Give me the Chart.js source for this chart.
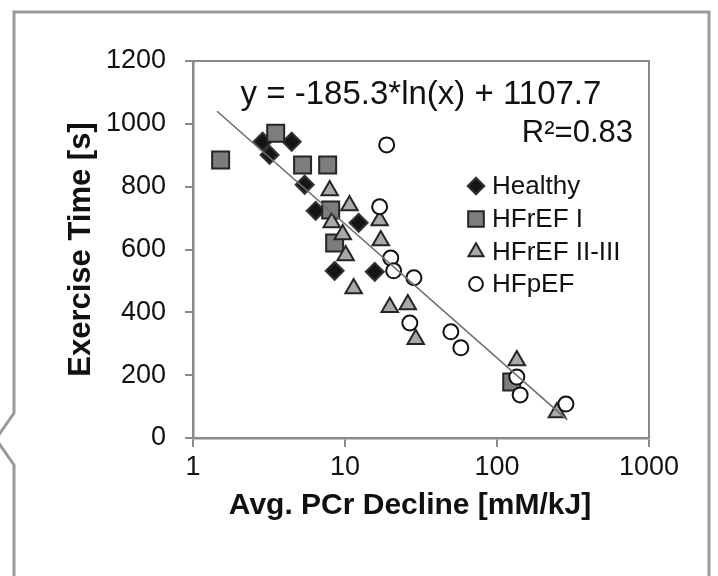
<!DOCTYPE html>
<html lang="en">
<head>
<meta charset="UTF-8">
<title>Exercise Time vs PCr Decline</title>
<script src="https://cdn.jsdelivr.net/npm/chart.js@4.4.1/dist/chart.umd.min.js"></script>
<style>
  html, body {margin: 0; padding: 0; background: #fff;}
  #wrap {width: 718px; height: 576px;}
</style>
</head>
<body>
<div id="wrap"><canvas id="chart"></canvas></div>
<script>
// values
const healthyX = [2.87, 4.46, 3.19, 5.43, 6.41, 12.3, 8.55, 15.7];
const healthyY = [943, 943, 901, 806, 723, 685, 532, 529];
const hfrefIX = [1.52, 3.50, 5.26, 7.69, 8.05, 8.55, 125];
const hfrefIY = [885, 970, 869, 869, 726, 621, 178];
const hfrefIIX = [7.93, 10.7, 8.18, 9.66, 10.1, 16.9, 17.2, 11.4, 19.7, 25.9, 29.2, 135, 248];
const hfrefIIY = [788, 740, 686, 648, 581, 692, 629, 476, 416, 425, 314, 247, 81];
const hfpefX = [18.8, 16.9, 20.0, 20.9, 28.4, 26.7, 49.7, 57.8, 135, 142, 284];
const hfpefY = [933, 736, 573, 532, 510, 366, 338, 287, 194, 137, 108];
const trendX = [1.44, 290];
const trendY = [1040, 58];

const xTicks = [1, 10, 100, 1000];
const yTicks = [0, 200, 400, 600, 800, 1000, 1200];
const seriesNames = ['Healthy', 'HFrEF I', 'HFrEF II-III', 'HFpEF'];
const equation = 'y = -185.3*ln(x) + 1107.7';
const rSquared = 'R²=0.83';
const xTitle = 'Avg. PCr Decline [mM/kJ]';
const yTitle = 'Exercise Time [s]';

const FONT = '"Liberation Sans", Arial, sans-serif';
const AXIS_GRAY = '#8a8a8a';

function pts(xs, ys) {
    return xs.map((x, i) => ({x: x, y: ys[i]}));
}

const styles = [
    {pointStyle: 'rectRot', radius: 9, backgroundColor: '#151515', borderColor: '#333'},
    {pointStyle: 'rect', radius: 12, backgroundColor: '#7d7d7d', borderColor: '#252525'},
    {pointStyle: 'triangle', radius: 9.5, backgroundColor: '#a9a9a9', borderColor: '#252525'},
    {pointStyle: 'circle', radius: 7.5, backgroundColor: '#ffffff', borderColor: '#111'}
];
const seriesData = [pts(healthyX, healthyY), pts(hfrefIX, hfrefIY), pts(hfrefIIX, hfrefIIY), pts(hfpefX, hfpefY)];

const datasets = seriesNames.map((name, i) => ({
    type: 'scatter',
    label: name,
    data: seriesData[i],
    pointStyle: styles[i].pointStyle,
    pointRadius: styles[i].radius,
    pointHoverRadius: styles[i].radius,
    backgroundColor: styles[i].backgroundColor,
    borderColor: styles[i].borderColor,
    borderWidth: 2,
    order: 4 - i
}));
datasets.push({
    type: 'line',
    label: 'trend',
    data: pts(trendX, trendY),
    borderColor: '#6f6f6f',
    borderWidth: 1.6,
    pointRadius: 0,
    fill: false,
    order: 0
});

function drawMarker(ctx, st, x, y) {
    ctx.save();
    ctx.fillStyle = st.backgroundColor;
    ctx.strokeStyle = st.borderColor;
    ctx.lineWidth = 2;
    Chart.helpers.drawPoint(ctx, {pointStyle: st.pointStyle, radius: st.radius, rotation: 0, borderWidth: 2}, x, y);
    ctx.restore();
}

const decor = {
    id: 'decor',
    beforeDraw(chart) {
        const ctx = chart.ctx;
        ctx.save();
        ctx.fillStyle = '#fff';
        ctx.fillRect(0, 0, chart.width, chart.height);
        ctx.restore();
    },
    afterDraw(chart) {
        const {ctx, chartArea: a} = chart;
        ctx.save();
        // frame round the plot
        ctx.strokeStyle = AXIS_GRAY;
        ctx.lineWidth = 2;
        ctx.beginPath();
        ctx.moveTo(a.left - 8, a.top);
        ctx.lineTo(a.right, a.top);
        ctx.lineTo(a.right, a.bottom);
        ctx.stroke();

        // outer panel border with the notch on the left
        ctx.strokeStyle = '#9a9a9a';
        ctx.lineWidth = 3;
        ctx.beginPath();
        ctx.moveTo(14, 576);
        ctx.lineTo(14, 465);
        ctx.lineTo(-4, 439);
        ctx.lineTo(14, 413);
        ctx.lineTo(14, 12);
        ctx.lineTo(709, 12);
        ctx.lineTo(709, 576);
        ctx.stroke();

        // trend equation
        ctx.fillStyle = '#111';
        ctx.textBaseline = 'middle';
        ctx.textAlign = 'center';
        ctx.font = '33px ' + FONT;
        ctx.fillText(equation, 421, 95);
        ctx.textAlign = 'right';
        ctx.font = '31px ' + FONT;
        ctx.fillText(rSquared, 633, 133);

        // x axis title
        ctx.textAlign = 'center';
        ctx.font = 'bold 30px ' + FONT;
        ctx.fillText(xTitle, 410, 506);

        // legend
        ctx.textAlign = 'left';
        ctx.font = '26px ' + FONT;
        const legY = [186, 219, 252, 284];
        seriesNames.forEach((name, i) => {
            const st = Object.assign({}, styles[i], {radius: styles[i].radius * 0.92});
            drawMarker(ctx, st, 476, legY[i]);
            ctx.fillStyle = '#111';
            ctx.fillText(name, 492, legY[i] + 1);
        });
        ctx.restore();
    }
};

new Chart('chart', {
    data: {datasets: datasets},
    options: {
        responsive: true,
        maintainAspectRatio: false,
        animation: false,
        layout: {padding: {left: 0, top: 61, right: 69, bottom: 0}},
        plugins: {
            legend: {display: false},
            tooltip: {enabled: false}
        },
        scales: {
            x: {
                type: 'logarithmic',
                min: 1,
                max: 1000,
                afterBuildTicks: (s) => { s.ticks = xTicks.map(v => ({value: v})); },
                afterFit: (s) => { s.height = 138; },
                ticks: {
                    color: '#111',
                    font: {family: FONT, size: 27},
                    padding: 4,
                    maxRotation: 0,
                    callback: (v) => String(v)
                },
                grid: {drawOnChartArea: false, drawTicks: true, tickLength: 9, color: AXIS_GRAY, lineWidth: 2},
                border: {color: AXIS_GRAY, width: 2.5}
            },
            y: {
                min: 0,
                max: 1200,
                afterBuildTicks: (s) => { s.ticks = yTicks.map(v => ({value: v})); },
                afterFit: (s) => { s.width = 193; },
                ticks: {
                    color: '#111',
                    font: {family: FONT, size: 27},
                    padding: 19,
                    callback: (v) => String(v)
                },
                grid: {drawOnChartArea: false, drawTicks: true, tickLength: 8, color: AXIS_GRAY, lineWidth: 2},
                border: {color: AXIS_GRAY, width: 2.5},
                title: {
                    display: true,
                    text: yTitle,
                    color: '#111',
                    font: {family: FONT, size: 31, weight: 'bold'},
                    padding: {top: 63, bottom: 0}
                }
            }
        }
    },
    plugins: [decor]
});
</script>
</body>
</html>
